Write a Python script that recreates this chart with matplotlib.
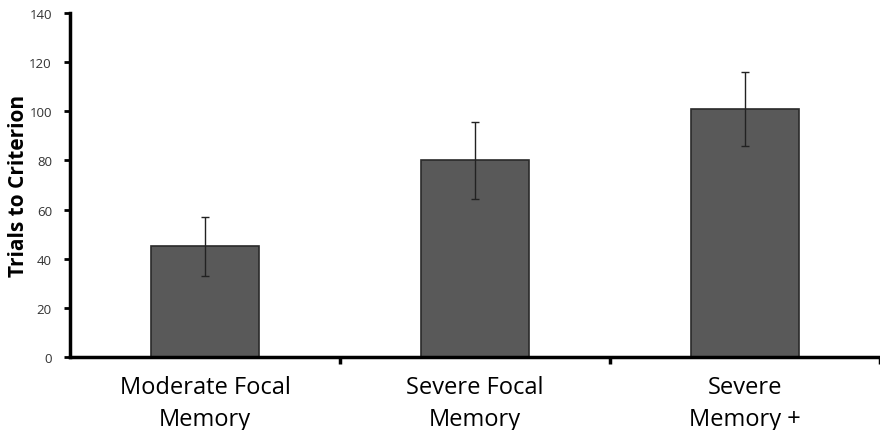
import numpy as np
from matplotlib import pyplot as plt

## data
groups = ["Moderate Focal\nMemory", "Severe Focal\nMemory", "Severe\nMemory +"]
trials = [45, 80, 101]
errors = [12, 15.5, 15]
y_ticks = [0, 20, 40, 60, 80, 100, 120, 140]

plt.rcParams['font.family'] = ['Open Sans', 'DejaVu Sans']

fig = plt.figure(figsize=(8.8, 4.31), dpi=100)
ax = fig.add_axes([0.0795, 0.1694, 0.9205, 0.7981])

x = np.arange(len(groups))
ax.bar(x, trials, width=0.40, color='#595959', edgecolor='#2a2a2a', linewidth=1.2, zorder=2)
ax.errorbar(x, trials, yerr=errors, fmt='none', ecolor='#222222', elinewidth=1, capsize=3, capthick=1, zorder=3)

ax.set_xlim(-0.5, 2.5)
ax.set_ylim(0, 140)
ax.set_yticks(y_ticks)
ax.tick_params(axis='y', labelsize=9.5, labelcolor='#333333', length=4, width=2, direction='out', pad=9)

ax.set_xticks(x)
ax.set_xticklabels(groups, fontsize=17, linespacing=1.42)
ax.set_xticks([0.5, 1.5, 2.5], minor=True)
ax.tick_params(axis='x', which='major', length=0, pad=13)
ax.tick_params(axis='x', which='minor', length=5, width=2.5, direction='out')

ax.set_ylabel('Trials to Criterion', fontsize=15, fontweight='bold')
ax.yaxis.set_label_coords(-0.051, 0.5)

for side in ['top', 'right']:
    ax.spines[side].set_visible(False)
for side in ['left', 'bottom']:
    ax.spines[side].set_linewidth(2.5)

plt.savefig('out.png', dpi=100)
